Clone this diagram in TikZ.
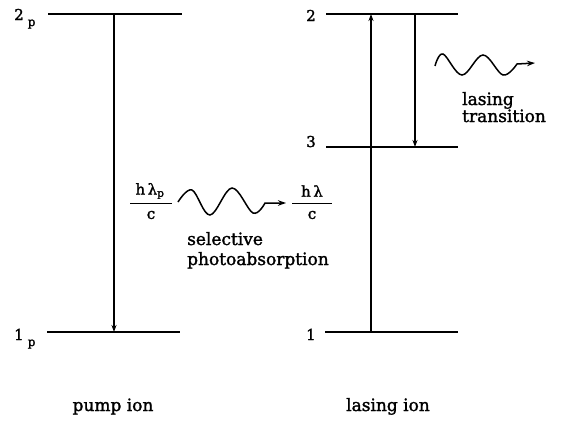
\documentclass[tikz,border=0pt]{standalone}
\usepackage{fontspec}
\setmainfont{DejaVu Serif}[BoldFont=DejaVu Serif, BoldFeatures={FakeBold=1.6}]
\usetikzlibrary{arrows.meta}
\begin{document}
\begin{tikzpicture}[x=1pt,y=-1pt,
  level/.style={line width=2.4pt},
  trans/.style={line width=1.2pt,-{Stealth[length=7pt,width=5pt]}},
  wave/.style={line width=1.5pt,-{Stealth[length=8pt,width=5.5pt]}},
  bar/.style={line width=1pt},
  txt/.style={font=\fontsize{17}{20}\selectfont\bfseries, inner sep=0pt, align=left},
  digit/.style={font=\fontsize{15}{15}\selectfont\bfseries, inner sep=0pt},
  frac/.style={font=\fontsize{15}{15}\selectfont\bfseries, inner sep=0pt}]
\useasboundingbox (0,0) rectangle (565,423);

% level line end points
\coordinate (a2l) at (48,14);  \coordinate (a2r) at (182,14);
\coordinate (a1l) at (47,332); \coordinate (a1r) at (180,332);
\coordinate (b2l) at (326,14);  \coordinate (b2r) at (458,14);
\coordinate (b3l) at (326,147); \coordinate (b3r) at (458,147);
\coordinate (b1l) at (325,332); \coordinate (b1r) at (458,332);

\draw[level] (a2l) -- (a2r);
\draw[level] (a1l) -- (a1r);
\draw[level] (b2l) -- (b2r);
\draw[level] (b3l) -- (b3r);
\draw[level] (b1l) -- (b1r);

% transitions
\coordinate (pa) at (114,14);  \coordinate (pb) at (114,332);
\coordinate (u1) at (371,332); \coordinate (u2) at (371,14);
\coordinate (d2) at (415,14);  \coordinate (d3) at (415,147);
\draw[trans] (pa) -- (pb);
\draw[trans] (u1) -- (u2);
\draw[trans] (d2) -- (d3);

% level labels
\node[digit, anchor=base west] (n2p) at (14,20) {2\hspace{4pt}\raisebox{-6pt}{\fontsize{12}{12}\selectfont p}};
\node[digit, anchor=base west] (n1p) at (14,340) {1\hspace{4pt}\raisebox{-6pt}{\fontsize{12}{12}\selectfont p}};
\node[digit, anchor=base west] (n2) at (306,21) {2};
\node[digit, anchor=base west] (n3) at (306,147) {3};
\node[digit, anchor=base west] (n1) at (306,340) {1};

% left fraction
\node[frac] (f1n) at (150,191) {h\,λ\textsubscript{p}};
\coordinate (f1a) at (130,203); \coordinate (f1b) at (172,203);
\draw[bar] (f1a) -- (f1b);
\node[frac] (f1d) at (151,215) {c};

% right fraction
\node[frac] (f2n) at (312,191) {h\,λ};
\coordinate (f2a) at (292,203); \coordinate (f2b) at (332,203);
\draw[bar] (f2a) -- (f2b);
\node[frac] (f2d) at (312,215) {c};

% lower wave
\coordinate (w1e) at (286,203);
\draw[wave] plot[smooth, tension=0.6] coordinates {(178,202) (192,190) (210,215) (232,188) (253,213) (265,203)} -- (w1e);

% upper wave
\coordinate (w2e) at (535,63);
\draw[wave] plot[smooth, tension=0.6] coordinates {(435,66) (443,54) (462,75) (483,55) (503,75) (517,64)} -- (w2e);

% texts (base anchor of a multi-line node = last line's baseline)
\node[txt, anchor=base west] (sel) at (187,265) {selective\\photoabsorption};
\node[txt, anchor=base west, font=\fontsize{17}{17}\selectfont\bfseries] (las) at (462,122) {lasing\\transition};
\node[txt, anchor=base] (pump) at (113,411) {pump ion};
\node[txt, anchor=base] (lion) at (388,411) {lasing ion};
\end{tikzpicture}
\end{document}
